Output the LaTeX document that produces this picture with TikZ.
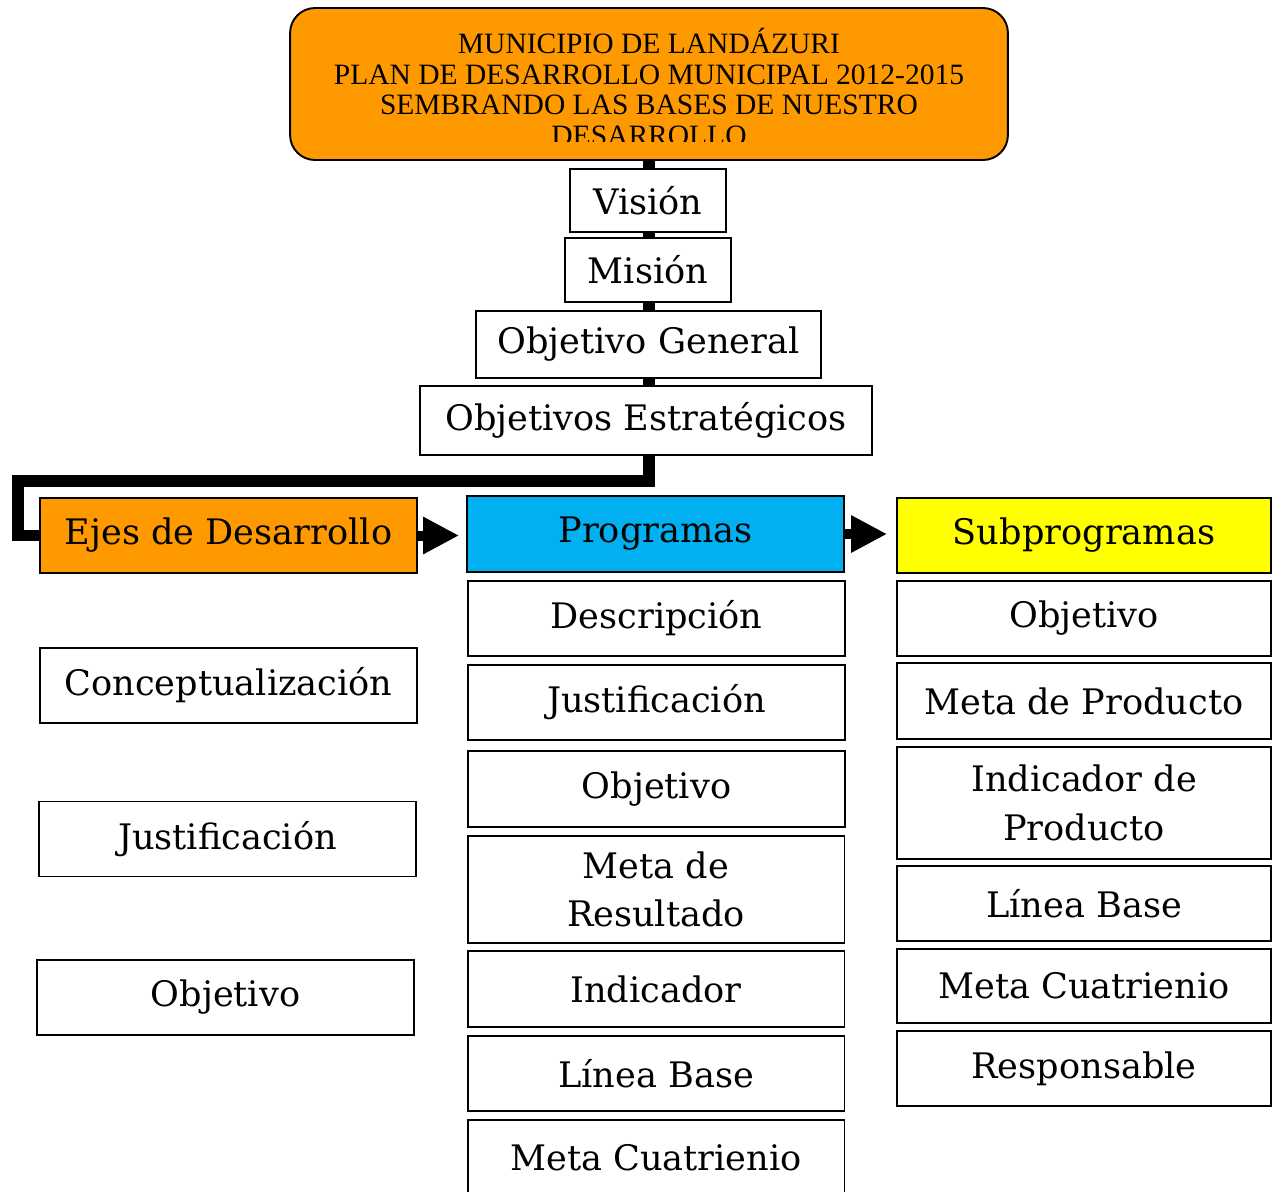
\documentclass[tikz,border=0pt]{standalone}
\usepackage{fontspec}
\setmainfont{DejaVu Serif}
\newfontfamily\headfont{Liberation Serif}
\usetikzlibrary{arrows.meta,backgrounds}

\definecolor{ejeorange}{HTML}{FF9900}
\definecolor{progcyan}{HTML}{00B0F0}
\definecolor{subyellow}{HTML}{FFFF00}

\tikzset{
  field/.style={draw=black, line width=1.1pt, fill=white, inner sep=0pt,
    align=center, font=\fontsize{20}{27.5}\selectfont},
  colbox/.style={field, minimum width=7.54cm, minimum height=1.5cm},
  link/.style={line width=0.23cm, black},
  bigarrow/.style={line width=0.2cm, black,
    -{Triangle[length=0.72cm, width=0.7cm]}}
}

\begin{document}
\begin{tikzpicture}[x=0.02cm, y=-0.02cm]
    \useasboundingbox (0,0) rectangle (1273,1191);
    % encabezado
    \node [draw=black, line width=1.1pt, fill=ejeorange, rounded corners=0.5cm,
      minimum width=14.36cm, minimum height=3.04cm] (head) at (649,84) {};
    \begin{scope}
    \clip (295,10) rectangle (1003,141);
    \node [align=center, font=\headfont\fontsize{16.8}{17.6}\selectfont] (headtxt) at (649,87)
      {MUNICIPIO DE LANDÁZURI\\PLAN DE DESARROLLO MUNICIPAL 2012-2015\\
       SEMBRANDO LAS BASES DE NUESTRO\\DESARROLLO};
    \end{scope}
    % cadena central
    \node [field, minimum width=3.12cm, minimum height=1.26cm] (vision) at (648,200.5) {Visión};
    \node [field, minimum width=3.32cm, minimum height=1.28cm] (mision) at (648,270) {Misión};
    \node [field, minimum width=6.9cm, minimum height=1.34cm] (objgen) at (648.5,344.5) {Objetivo General};
    \node [field, minimum width=9.04cm, minimum height=1.38cm] (objest) at (646,420.5) {Objetivos Estratégicos};
    \coordinate (drop) at (649,481);
    \coordinate (bend) at (18,481);
    % ejes
    \node [colbox, fill=ejeorange] (ejes) at (228.5,535.5) {Ejes de Desarrollo};
    \node [colbox] (concep) at (228.5,685.5) {Conceptualización};
    \node [colbox] (justL) at (227.5,839) {Justificación};
    \node [colbox] (objL) at (225.5,997.5) {Objetivo};
    % programas
    \node [colbox, fill=progcyan, minimum height=1.52cm] (prog) at (655.5,534) {Programas};
    \node [colbox] (desc) at (656.5,618.5) {Descripción};
    \node [colbox] (justM) at (656.5,702.5) {Justificación};
    \node [colbox, minimum height=1.52cm] (objM) at (656.5,789) {Objetivo};
    \node [colbox, minimum height=2.14cm] (metaRes) at (656,889.5) {Meta de\\Resultado};
    \node [colbox, minimum height=1.52cm] (indic) at (656,989) {Indicador};
    \node [colbox] (lineaM) at (656,1073.5) {Línea Base};
    \node [colbox] (cuatM) at (656,1157.5) {Meta Cuatrienio};
    % subprogramas
    \node [colbox, fill=subyellow, minimum width=7.48cm] (subp) at (1084,535.5) {Subprogramas};
    \node [colbox, minimum width=7.48cm] (objR) at (1084,618.5) {Objetivo};
    \node [colbox, minimum width=7.48cm, minimum height=1.52cm] (metaProd) at (1084,701) {Meta de Producto};
    \node [colbox, minimum width=7.48cm, minimum height=2.24cm] (indProd) at (1084,803) {Indicador de\\Producto};
    \node [colbox, minimum width=7.48cm] (lineaR) at (1084,903.5) {Línea Base};
    \node [colbox, minimum width=7.48cm, minimum height=1.48cm] (cuatR) at (1084,986) {Meta Cuatrienio};
    \node [colbox, minimum width=7.48cm] (resp) at (1084,1068.5) {Responsable};
    % conectores
    \begin{scope}[on background layer]
    \draw [link] (head.south) -- (drop) -- (bend) |- (ejes.west);
    \end{scope}
    \draw [bigarrow, shorten >=0.14cm] (ejes.east) -- (ejes.east -| prog.west);
    \draw [bigarrow, shorten >=0.18cm] (prog.east) -- (prog.east -| subp.west);
\end{tikzpicture}
\end{document}
